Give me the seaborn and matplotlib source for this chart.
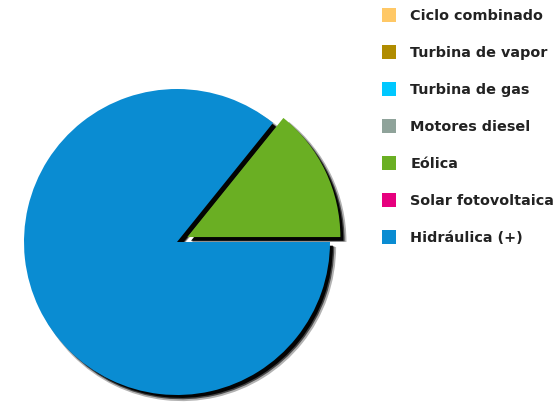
import matplotlib
matplotlib.use("Agg")
import matplotlib.pyplot as plt
from matplotlib.lines import Line2D
import seaborn as sns

categories = ["Ciclo combinado", "Turbina de vapor", "Turbina de gas",
              "Motores diesel", "Eólica", "Solar fotovoltaica", "Hidráulica (+)"]
values = [0.0, 0.0, 0.0, 0.0, 14.2, 0.0, 85.8]
colors = ["#FFC866", "#B08C00", "#00C8FF", "#8FA39A", "#6AAF23", "#E6007E", "#0A8CD2"]
explode_map = {"Eólica": 0.075}

sns.set_theme(style="white")
plt.rcParams['font.family'] = ['DejaVu Sans']

fig = plt.figure(figsize=(5.6, 4.05), dpi=100)
ax = fig.add_axes([0, 0, 1, 1])
R = 153.0
cx, cy = 177.0, 405 - 242.0

vis = [(c, v, col) for c, v, col in zip(categories, values, colors) if v > 0]
vals = [v for _, v, _ in vis]
cols = [col for _, _, col in vis]
expl = [explode_map.get(c, 0.0) for c, _, _ in vis]

# shadow layers (blurred black)
for dx, a, r in [(0.032, 0.3, 1.008), (0.028, 0.6, 1.0), (0.024, 0.95, 0.995)]:
    ax.pie(vals, explode=expl, colors=["black"] * len(vals), startangle=0,
           counterclock=True, radius=r, center=(dx, -dx),
           wedgeprops=dict(linewidth=0, alpha=a))
ax.pie(vals, explode=expl, colors=cols, startangle=0, counterclock=True,
       radius=1.0, center=(0, 0), wedgeprops=dict(linewidth=0))

ax.set_aspect('auto')
ax.set_xlim(-cx / R, (560 - cx) / R)
ax.set_ylim(-cy / R, (405 - cy) / R)
ax.axis('off')

handles = [Line2D([0], [0], marker='s', linestyle='none', markersize=9.5,
                  markerfacecolor=col, markeredgewidth=0, label=c)
           for c, col in zip(categories, colors)]
fig.legend(handles=handles, loc='upper left', bbox_to_anchor=(382 / 560, 1 - 9 / 405),
           frameon=False, prop=dict(weight='bold', size=10.4), labelspacing=1.59,
           handlelength=0.95, handletextpad=1.0, borderpad=0, borderaxespad=0,
           labelcolor="#222222")

fig.savefig("out.png", dpi=100, facecolor="white")
